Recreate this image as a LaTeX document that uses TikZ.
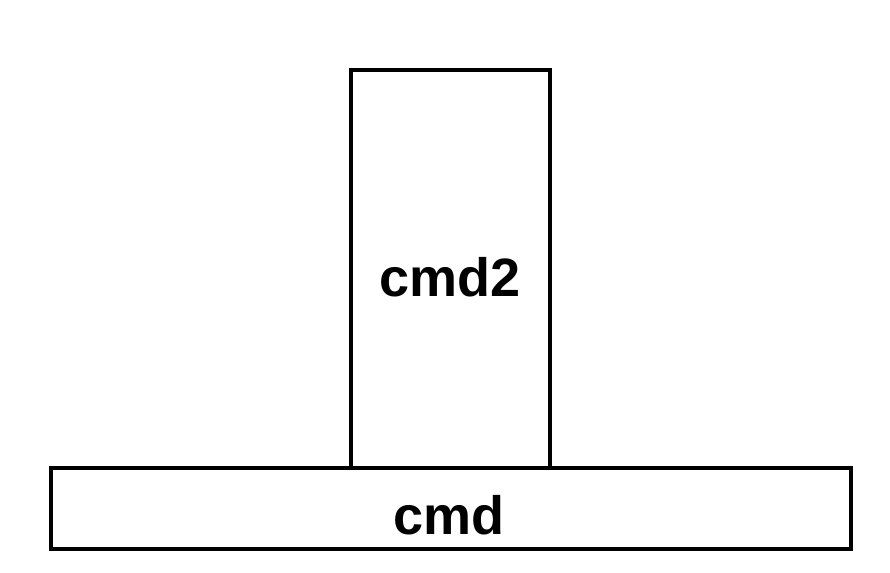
\documentclass[tikz,border=0pt]{standalone}
\usepackage{fontspec}
\setmainfont{Liberation Sans}
\begin{document}
\begin{tikzpicture}[x=1pt,y=-1pt,
  blk/.style={draw=black,line width=4.5pt,fill=white},
  lbl/.style={font=\bfseries\fontsize{54}{64}\selectfont}]
\useasboundingbox (0,0) rectangle (890,572);
\draw[blk] (351,70) rectangle (550,468);
\draw[blk] (51,468) rectangle (851,549);
\node[lbl] (cmdtwo) at (450,277) {cmd2};
\node[lbl] (cmd) at (449,515) {cmd};
\end{tikzpicture}
\end{document}
